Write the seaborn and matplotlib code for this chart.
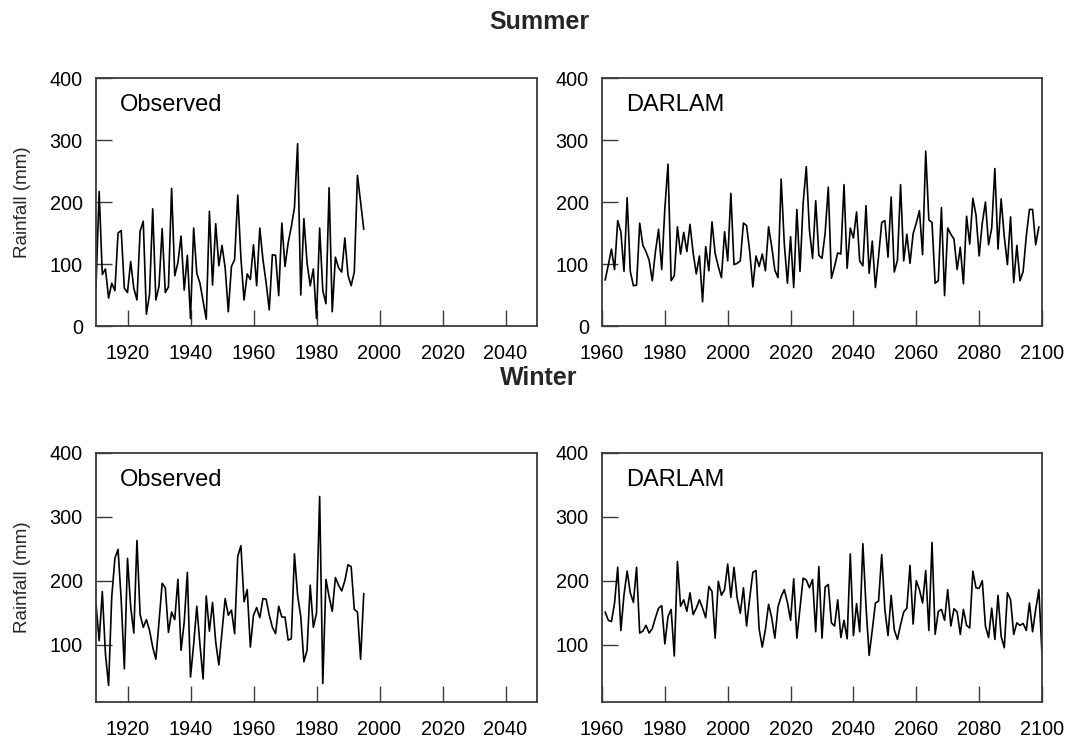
import matplotlib
matplotlib.use("Agg")
import matplotlib.pyplot as plt
import seaborn as sns
import pandas as pd

# ---------------- data ----------------
obs_years = list(range(1910, 1996))
darlam_summer_years = list(range(1961, 2100))
darlam_winter_years = list(range(1961, 2101))

summer_observed = [
    63, 217, 83, 92, 45, 69, 57, 150, 154, 61,
    54, 104, 61, 42, 153, 169, 19, 51, 189, 42,
    64, 157, 54, 63, 222, 81, 102, 145, 58, 114,
    12, 158, 85, 69, 40, 11, 185, 66, 165, 97,
    130, 94, 23, 96, 107, 211, 110, 42, 84, 75,
    131, 65, 158, 107, 70, 26, 115, 114, 49, 166,
    96, 134, 160, 191, 294, 50, 173, 102, 65, 92,
    12, 158, 57, 36, 223, 23, 111, 94, 87, 142,
    82, 65, 87, 243, 200, 156,
]

winter_observed = [
    164, 106, 183, 85, 36, 175, 235, 249, 170, 62,
    235, 160, 118, 263, 147, 127, 139, 122, 96, 77,
    135, 196, 189, 119, 151, 139, 202, 91, 135, 213,
    49, 100, 160, 100, 46, 176, 121, 166, 104, 68,
    120, 172, 146, 154, 117, 238, 255, 167, 186, 96,
    146, 158, 142, 172, 171, 146, 127, 117, 160, 143,
    143, 107, 109, 242, 177, 144, 73, 91, 193, 127,
    149, 332, 39, 202, 175, 152, 205, 193, 184, 200,
    225, 222, 155, 151, 77, 180,
]

summer_darlam = [
    74, 98, 124, 91, 170, 152, 88, 207, 88, 65,
    66, 166, 130, 120, 106, 73, 120, 156, 91, 190,
    261, 73, 81, 160, 116, 151, 120, 164, 118, 84,
    113, 39, 128, 89, 168, 117, 96, 78, 152, 105,
    214, 99, 101, 105, 166, 162, 120, 63, 113, 96,
    116, 89, 160, 128, 90, 78, 237, 133, 69, 144,
    62, 188, 88, 198, 257, 155, 109, 202, 114, 109,
    150, 224, 77, 96, 118, 116, 228, 93, 158, 142,
    184, 105, 97, 194, 85, 137, 62, 112, 167, 170,
    111, 208, 87, 106, 228, 105, 148, 101, 149, 166,
    186, 115, 282, 171, 167, 69, 73, 191, 49, 158,
    148, 140, 91, 127, 68, 177, 132, 206, 179, 113,
    166, 200, 131, 158, 254, 124, 205, 144, 99, 176,
    70, 130, 73, 88, 145, 188, 188, 131, 160,
]

winter_darlam = [
    151, 138, 136, 165, 221, 122, 178, 215, 181, 166,
    221, 118, 121, 130, 118, 125, 142, 157, 161, 101,
    144, 155, 82, 230, 160, 170, 152, 181, 147, 157,
    170, 157, 142, 191, 183, 110, 199, 177, 186, 226,
    174, 221, 173, 149, 189, 129, 173, 213, 216, 124,
    96, 124, 163, 142, 110, 159, 175, 186, 166, 138,
    203, 110, 157, 204, 201, 189, 202, 120, 222, 110,
    190, 194, 134, 129, 170, 111, 138, 109, 242, 114,
    164, 120, 258, 160, 83, 123, 165, 168, 241, 155,
    114, 177, 123, 108, 131, 151, 157, 224, 132, 200,
    186, 165, 216, 122, 260, 116, 152, 155, 138, 186,
    129, 156, 151, 116, 155, 130, 126, 215, 189, 188,
    200, 129, 111, 157, 108, 177, 113, 95, 181, 170,
    116, 134, 130, 133, 122, 165, 120, 155, 186, 84,
]

season_titles = ["Summer", "Winter"]
panel_labels = ["Observed", "DARLAM"]
obs_xticks = [1920, 1940, 1960, 1980, 2000, 2020, 2040]
darlam_xticks = [1960, 1980, 2000, 2020, 2040, 2060, 2080, 2100]
summer_yticks = [0, 100, 200, 300, 400]
winter_yticks = [100, 200, 300, 400]
y_label = "Rainfall (mm)"

# ---------------- style ----------------
sns.set_style("white")
plt.rcParams["font.family"] = ["Liberation Sans", "DejaVu Sans"]

W, H = 1070, 738
fig = plt.figure(figsize=(W / 100, H / 100), dpi=100)


def add_ax(x0, y0, x1, y1):
    return fig.add_axes([x0 / W, 1 - y1 / H, (x1 - x0) / W, (y1 - y0) / H])


panels = [
    (add_ax(96, 78, 537, 326), obs_years, summer_observed, (1910, 2050), obs_xticks,
     (0, 400), summer_yticks, panel_labels[0], True),
    (add_ax(602, 78, 1042, 326), darlam_summer_years, summer_darlam, (1960, 2100), darlam_xticks,
     (0, 400), summer_yticks, panel_labels[1], False),
    (add_ax(96, 453, 537, 702), obs_years, winter_observed, (1910, 2050), obs_xticks,
     (10, 400), winter_yticks, panel_labels[0], True),
    (add_ax(602, 453, 1042, 702), darlam_winter_years, winter_darlam, (1960, 2100), darlam_xticks,
     (10, 400), winter_yticks, panel_labels[1], False),
]

spine_col = "#3a3a3a"
for ax, xs, ys, xlim, xt, ylim, yt, lab, left in panels:
    df = pd.DataFrame({"Year": xs, "Rainfall": ys})
    sns.lineplot(data=df, x="Year", y="Rainfall", ax=ax, color="black",
                 linewidth=1.2, estimator=None)
    ax.set_xlim(*xlim)
    ax.set_ylim(*ylim)
    ax.set_xticks(xt)
    ax.set_yticks(yt)
    ax.set_xticklabels([str(v) for v in xt])
    ax.set_yticklabels([str(v) for v in yt])
    ax.tick_params(axis="both", direction="in", length=11.5, width=1.0,
                   labelsize=14.3, color=spine_col, labelcolor="black",
                   top=False, right=False, bottom=True, left=True)
    ax.tick_params(axis="x", pad=13)
    ax.tick_params(axis="y", pad=9.5)
    for sp in ax.spines.values():
        sp.set_visible(True)
        sp.set_color(spine_col)
        sp.set_linewidth(1.3)
    ax.set_xlabel("")
    if left:
        ax.set_ylabel(y_label, fontsize=13.5)
        ax.yaxis.set_label_coords(-0.147, 0.5)
    else:
        ax.set_ylabel("")
    ax.text(0.054, 0.868, lab, transform=ax.transAxes, fontsize=17,
            va="baseline", ha="left", color="black")
    ax.grid(False)

fig.text(539 / W, 1 - 22 / H, season_titles[0], ha="center", va="center",
         fontsize=18, fontweight="bold")
fig.text(539 / W, 1 - 378 / H, season_titles[1], ha="center", va="center",
         fontsize=18, fontweight="bold")

fig.savefig("out.png", dpi=100, facecolor="white")
